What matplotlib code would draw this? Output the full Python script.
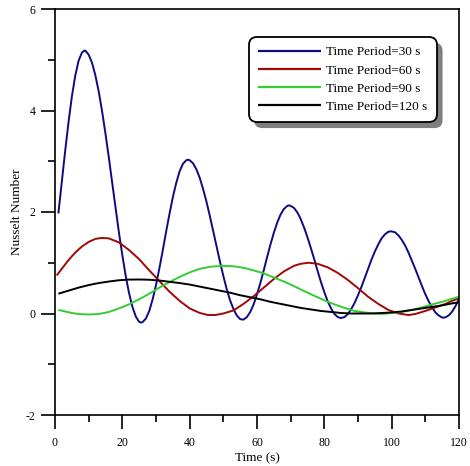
import matplotlib
matplotlib.use("Agg")
import matplotlib.pyplot as plt
from matplotlib.patches import Shadow
from matplotlib.ticker import MultipleLocator

plt.rcParams['font.family'] = ['Liberation Serif', 'DejaVu Serif']
plt.rcParams['axes.unicode_minus'] = False

# Nusselt number histories for four oscillation periods
blue_t = [1, 2, 3, 4, 5, 6, 7, 8, 8.7, 9, 10, 11, 12, 13, 14, 15, 16, 17, 18, 19, 20, 21, 22,
          23, 24, 25, 25.6, 26, 27, 28, 29, 30, 31, 32, 33, 34, 35, 36, 37, 38, 39, 39.4, 40,
          41, 42, 43, 44, 45, 46, 47, 48, 49, 50, 51, 52, 53, 54, 55, 55.7, 56, 57, 58, 59, 60,
          61, 62, 63, 64, 65, 66, 67, 68, 69, 69.5, 70, 71, 72, 73, 74, 75, 76, 77, 78, 79, 80,
          81, 82, 83, 84, 84.9, 86, 87, 88, 89, 90, 91, 92, 93, 94, 95, 96, 97, 98, 99, 99.8,
          101, 102, 103, 104, 105, 106, 107, 108, 109, 110, 111, 112, 113, 114, 115, 115.5, 116,
          117, 118, 119, 120]
blue_y = [1.97, 2.58, 3.19, 3.76, 4.27, 4.68, 4.98, 5.14, 5.18, 5.18, 5.10, 4.94, 4.69, 4.37,
          3.98, 3.54, 3.07, 2.57, 2.08, 1.59, 1.15, 0.74, 0.40, 0.13, -0.06, -0.165, -0.18, -0.17,
          -0.10, 0.05, 0.28, 0.56, 0.89, 1.24, 1.61, 1.96, 2.29, 2.57, 2.80, 2.95, 3.02, 3.03,
          3.02, 2.96, 2.84, 2.67, 2.45, 2.20, 1.92, 1.62, 1.32, 1.02, 0.74, 0.48, 0.26, 0.09,
          -0.04, -0.11, -0.12, -0.12, -0.07, 0.03, 0.18, 0.38, 0.60, 0.85, 1.11, 1.36, 1.59,
          1.79, 1.95, 2.06, 2.12, 2.13, 2.12, 2.08, 1.99, 1.86, 1.69, 1.50, 1.29, 1.07, 0.84,
          0.62, 0.42, 0.24, 0.10, -0.01, -0.07, -0.09, -0.07, -0.01, 0.09, 0.21, 0.36, 0.52,
          0.70, 0.88, 1.06, 1.22, 1.36, 1.48, 1.56, 1.61, 1.62, 1.60, 1.54, 1.45, 1.34, 1.20,
          1.04, 0.88, 0.71, 0.54, 0.38, 0.24, 0.12, 0.02, -0.04, -0.08, -0.08, -0.075, -0.035,
          0.04, 0.15, 0.29]

red_t = [0.5, 2, 4, 6, 8, 10, 12, 13.9, 16, 19, 22, 25, 28, 31, 34, 37, 40, 43, 45.5, 47.6, 50,
         53, 56, 59, 62, 65, 68, 71, 73, 75.4, 78, 81, 84, 87, 90, 93, 96, 99, 102, 105, 107,
         110, 113, 116, 118, 120]
red_y = [0.75, 0.88, 1.05, 1.20, 1.32, 1.41, 1.47, 1.49, 1.48, 1.40, 1.25, 1.07, 0.85, 0.64,
         0.43, 0.25, 0.10, 0.01, -0.03, -0.03, 0.0, 0.06, 0.19, 0.34, 0.51, 0.68, 0.83, 0.94,
         0.98, 1.0, 0.98, 0.91, 0.80, 0.66, 0.50, 0.33, 0.19, 0.07, 0.0, -0.03, -0.01, 0.05,
         0.12, 0.19, 0.25, 0.30]

green_t = [1, 3, 5, 7, 10, 13, 16, 19, 22, 25, 28, 31, 34, 37, 40, 43, 46, 49.6, 53, 56, 59, 62,
           65, 68, 71, 74, 77, 80, 83, 86, 89, 92, 95, 97, 100, 103, 106, 109, 112, 115, 118, 120]
green_y = [0.07, 0.04, 0.01, -0.01, -0.02, -0.01, 0.03, 0.10, 0.18, 0.28, 0.39, 0.51, 0.62,
           0.72, 0.81, 0.88, 0.92, 0.94, 0.93, 0.90, 0.85, 0.79, 0.71, 0.63, 0.54, 0.44, 0.35,
           0.26, 0.18, 0.11, 0.05, 0.02, 0.0, -0.01, 0.01, 0.03, 0.07, 0.12, 0.18, 0.23, 0.29,
           0.33]

black_t = [1, 4, 7, 10, 13, 16, 19, 22, 25, 28, 31, 34, 37, 40, 43, 46, 49, 52, 55, 58, 61, 64,
           67, 70, 73, 76, 79, 82, 85, 88, 91, 94, 97, 100, 103, 106, 109, 112, 115, 118, 120]
black_y = [0.39, 0.45, 0.51, 0.56, 0.60, 0.63, 0.655, 0.668, 0.67, 0.665, 0.65, 0.625, 0.60,
           0.57, 0.53, 0.49, 0.45, 0.41, 0.36, 0.32, 0.28, 0.23, 0.19, 0.15, 0.11, 0.08, 0.05,
           0.03, 0.01, 0.0, 0.0, 0.0, 0.01, 0.02, 0.04, 0.07, 0.10, 0.13, 0.16, 0.20, 0.22]

labels = ["Time Period=30 s", "Time Period=60 s", "Time Period=90 s", "Time Period=120 s"]
colors = ["#0c0c80", "#a00808", "#33cc33", "#000000"]

fig = plt.figure(figsize=(4.70, 4.66), dpi=100)
ax = fig.add_axes([55 / 470, 51 / 466, 404 / 470, 406 / 466])

series = [(blue_t, blue_y), (red_t, red_y), (green_t, green_y), (black_t, black_y)]
for (t, y), lab, c in zip(series, labels, colors):
    ax.plot(t, y, color=c, lw=1.4, label=lab, solid_capstyle='butt', solid_joinstyle='round')

ax.set_xlim(0, 120)
ax.set_ylim(-2, 6)
ax.xaxis.set_major_locator(MultipleLocator(20))
ax.xaxis.set_minor_locator(MultipleLocator(10))
ax.yaxis.set_major_locator(MultipleLocator(2))
ax.yaxis.set_minor_locator(MultipleLocator(1))

for s in ax.spines.values():
    s.set_linewidth(1.2)
ax.tick_params(which='both', direction='out', width=1.2, top=False, right=False,
               labelsize=8.5)
ax.tick_params(which='major', length=10)
ax.tick_params(which='minor', length=5)
ax.tick_params(axis='x', which='major', pad=6)
ax.tick_params(axis='y', which='major', pad=4)

ax.set_xlabel("Time (s)", fontsize=9.5, labelpad=2)
ax.set_ylabel("Nusselt Number", fontsize=9.5, labelpad=2)

leg = ax.legend(loc='upper right', bbox_to_anchor=(0.9455, 0.931), borderaxespad=0,
                fontsize=9.5, handlelength=4.75, handletextpad=0.45, labelspacing=0.45,
                borderpad=0.7, frameon=True, fancybox=True, shadow=False)
frame = leg.get_frame()
frame.set_edgecolor('black')
frame.set_linewidth(1.3)
frame.set_facecolor('white')
frame.set_alpha(1)
frame.set_boxstyle('round', pad=0, rounding_size=0.6)
for line in leg.get_lines():
    line.set_linewidth(1.6)

# Offset drop shadow behind the legend box
fig.canvas.draw()
sh = Shadow(leg.legendPatch, 4.0, -4.2, facecolor='#7f7f7f', edgecolor='none', alpha=1)
sh.set_zorder(leg.get_zorder() - 0.1)
ax.add_artist(sh)

fig.savefig("out.png", dpi=100)
